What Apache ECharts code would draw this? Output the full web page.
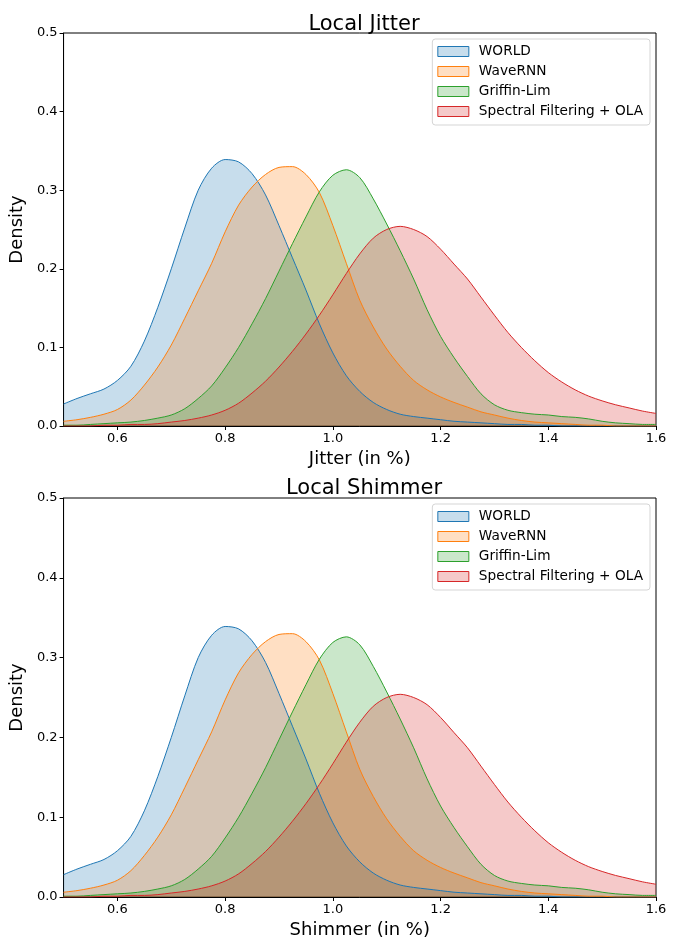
<!DOCTYPE html>
<html style="height: 100%">
<head>
    <meta charset="utf-8">
</head>
<body style="height: 100%; margin: 0; background: #fff">
    <div id="container" style="width: 679px; height: 940px"></div>
    <script src="https://cdn.jsdelivr.net/npm/echarts@6/dist/echarts.min.js"></script>
    <script type="text/javascript">

// x grid shared by every density curve: 0.500, 0.525, ... 1.600 (45 points)
var xStart = 0.5, xStep = 0.025;

var names = ['WORLD', 'WaveRNN', 'Griffin-Lim', 'Spectral Filtering + OLA'];
var colors = ['#1f77b4', '#ff7f0e', '#2ca02c', '#d62728'];

var world = [
    0.028, 0.035, 0.041, 0.047, 0.058, 0.076, 0.108, 0.151, 0.200, 0.252,
    0.300, 0.328, 0.339, 0.336, 0.321, 0.294, 0.255, 0.214, 0.173, 0.130,
    0.093, 0.064, 0.044, 0.030, 0.021, 0.015, 0.012, 0.010, 0.008, 0.006,
    0.005, 0.004, 0.003, 0.002, 0.002, 0.001, 0.001, 0.000, 0.000, 0.000,
    0.000, 0.000, 0.000, 0.000, 0.000];
var waveRNN = [
    0.006, 0.008, 0.011, 0.015, 0.021, 0.033, 0.052, 0.075, 0.103, 0.137,
    0.172, 0.207, 0.247, 0.281, 0.304, 0.320, 0.329, 0.330, 0.320, 0.297,
    0.255, 0.207, 0.160, 0.126, 0.098, 0.076, 0.058, 0.046, 0.037, 0.030,
    0.024, 0.018, 0.014, 0.010, 0.007, 0.005, 0.004, 0.003, 0.002, 0.001,
    0.001, 0.000, 0.000, 0.000, 0.000];
var griffin = [
    0.001, 0.001, 0.002, 0.003, 0.004, 0.005, 0.007, 0.010, 0.014, 0.022,
    0.035, 0.051, 0.074, 0.100, 0.130, 0.162, 0.197, 0.232, 0.266, 0.298,
    0.319, 0.326, 0.316, 0.289, 0.257, 0.223, 0.187, 0.148, 0.114, 0.087,
    0.063, 0.041, 0.027, 0.020, 0.017, 0.015, 0.014, 0.012, 0.011, 0.009,
    0.006, 0.004, 0.003, 0.002, 0.002];
var spectral = [
    0.000, 0.000, 0.000, 0.001, 0.001, 0.002, 0.002, 0.003, 0.005, 0.007,
    0.010, 0.014, 0.020, 0.029, 0.042, 0.057, 0.075, 0.095, 0.117, 0.141,
    0.167, 0.194, 0.219, 0.239, 0.250, 0.254, 0.250, 0.241, 0.225, 0.206,
    0.187, 0.164, 0.141, 0.119, 0.100, 0.083, 0.068, 0.056, 0.046, 0.038,
    0.032, 0.027, 0.023, 0.019, 0.016];

// the shimmer panel shows the same curves as the jitter panel
var jitterSets = [world, waveRNN, griffin, spectral];
var shimmerSets = [world, waveRNN, griffin, spectral];

var xTicks = [0.6, 0.8, 1.0, 1.2, 1.4, 1.6];

var dom = document.getElementById("container");
var myChart = echarts.init(dom);

var font = 'DejaVu Sans';

function rgba(hex, a) {
    var n = parseInt(hex.slice(1), 16);
    return 'rgba(' + (n >> 16) + ',' + ((n >> 8) & 255) + ',' + (n & 255) + ',' + a + ')';
}

function makeAxes(idx, label) {
    var x = {
        type: 'value', gridIndex: idx, min: 0.5, max: 1.6,
        name: label, nameLocation: 'middle', nameGap: 24,
        nameTextStyle: {fontFamily: font, fontSize: 18, color: '#000'},
        axisLine: {show: true, lineStyle: {color: '#000', width: 1}},
        axisTick: {show: true, length: 4, customValues: xTicks, lineStyle: {color: '#000'}},
        axisLabel: {customValues: xTicks, fontFamily: font, fontSize: 13, color: '#000', margin: 6,
                    formatter: function(v) { return v.toFixed(1); }},
        splitLine: {show: false}
    };
    var y = {
        type: 'value', gridIndex: idx, min: 0, max: 0.5, interval: 0.1,
        name: 'Density', nameLocation: 'middle', nameGap: 28,
        nameTextStyle: {fontFamily: font, fontSize: 18, color: '#000'},
        axisLine: {show: true, lineStyle: {color: '#000', width: 1}},
        axisTick: {show: true, length: 4, lineStyle: {color: '#000'}},
        axisLabel: {fontFamily: font, fontSize: 13, color: '#000', margin: 6,
                    formatter: function(v) { return v.toFixed(1); }},
        splitLine: {show: false}
    };
    return [x, y];
}

function makeSeries(idx, sets) {
    return sets.map(function(vals, i) {
        return {
            name: names[i],
            type: 'line',
            xAxisIndex: idx, yAxisIndex: idx,
            smooth: 0.3,
            showSymbol: false,
            silent: true,
            data: vals.map(function(v, k) { return [xStart + k * xStep, v]; }),
            lineStyle: {color: colors[i], width: 1},
            itemStyle: {color: colors[i]},
            areaStyle: {color: colors[i], opacity: 0.25}
        };
    });
}

function makeLegend(top) {
    return {
        orient: 'vertical', right: 29, top: top,
        backgroundColor: '#fff', borderColor: '#d5d5d5', borderWidth: 1, borderRadius: 3,
        padding: [5, 7, 6, 5], itemGap: 5, itemWidth: 31, itemHeight: 10,
        icon: 'rect',
        textStyle: {fontFamily: font, fontSize: 13.7, lineHeight: 15, color: '#000', padding: [0, 0, 0, 5]},
        data: names.map(function(n, i) {
            return {name: n, itemStyle: {color: rgba(colors[i], 0.25), borderColor: colors[i], borderWidth: 1}};
        })
    };
}

var a0 = makeAxes(0, 'Jitter (in %)');
var a1 = makeAxes(1, 'Shimmer (in %)');

var option = {
    animation: false,
    backgroundColor: '#fff',
    title: [
        {text: 'Local Jitter', left: 359, top: 9, textAlign: 'center',
         textStyle: {fontFamily: font, fontSize: 21, fontWeight: 'normal', color: '#000'}},
        {text: 'Local Shimmer', left: 359, top: 473, textAlign: 'center',
         textStyle: {fontFamily: font, fontSize: 21, fontWeight: 'normal', color: '#000'}}
    ],
    legend: [makeLegend(39), makeLegend(504)],
    grid: [
        {left: 62, right: 23, top: 33, height: 393, show: true, borderColor: '#000', borderWidth: 1},
        {left: 62, right: 23, top: 498, height: 400, show: true, borderColor: '#000', borderWidth: 1}
    ],
    xAxis: [a0[0], a1[0]],
    yAxis: [a0[1], a1[1]],
    series: makeSeries(0, jitterSets).concat(makeSeries(1, shimmerSets))
};

myChart.setOption(option);
    </script>
</body>
</html>
